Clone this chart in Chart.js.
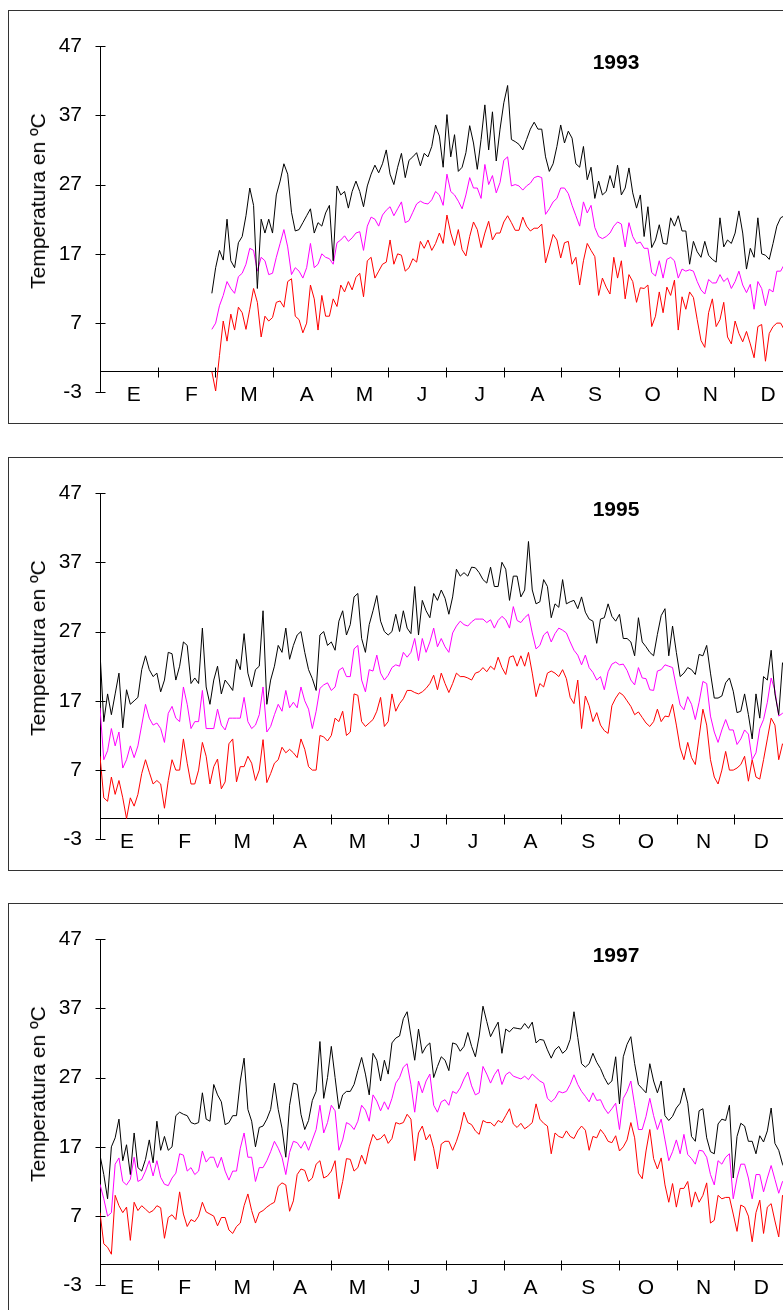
<!DOCTYPE html>
<html><head><meta charset="utf-8">
<script src="https://cdn.jsdelivr.net/npm/chart.js@4.4.0/dist/chart.umd.min.js"></script>
<style>
html,body{margin:0;padding:0;background:#fff;overflow:hidden;width:783px;height:1310px;}
.panel{position:absolute;left:8px;width:830px;height:412px;border:1px solid #333;background:#fff;}
.panel canvas{position:absolute;left:0;top:0;}
.ytitle{position:absolute;left:29px;top:190px;transform:translate(-50%,-50%) rotate(-90deg);white-space:nowrap;font:21px 'Liberation Sans',Arial,sans-serif;color:#000;}
.year{position:absolute;left:607px;top:51px;transform:translate(-50%,-50%);font:bold 21px 'Liberation Sans',Arial,sans-serif;color:#000;}
</style></head><body>
<div class="panel" style="top:10px"><canvas id="c1993" width="830" height="412"></canvas><div class="ytitle">Temperatura en ºC</div><div class="year">1993</div></div>
<div class="panel" style="top:457px"><canvas id="c1995" width="830" height="412"></canvas><div class="ytitle">Temperatura en ºC</div><div class="year">1995</div></div>
<div class="panel" style="top:903px"><canvas id="c1997" width="830" height="412"></canvas><div class="ytitle">Temperatura en ºC</div><div class="year">1997</div></div>
<script>
const MONTHS = ['E','F','M','A','M','J','J','A','S','O','N','D'];
const Y_TICKS = [-3, 7, 17, 27, 37, 47];
const STEP_DAYS = 2;

const START_1993 = 59;
const max1993 = [11.3,15,17.5,16.1,22,16,15,18.6,19.5,22.5,
26.5,24,12,22,20,22,20,25.5,27.5,30,
28.5,23,20.3,20.5,21.5,22.5,23.5,20,21.5,21,
22.9,24,16,26.8,25.5,26,23.6,26,27.5,26,
23.8,26.8,28.5,29.8,28.7,30,32,28.5,27,29.5,
31.5,28,30.5,31,31.6,29.7,31.5,31,32.5,35.6,
34,29.5,37.1,31,34.2,28.9,29.5,31.6,35.5,33,
29.2,33.5,38.5,32,37.5,30.4,35,38.8,41.3,33.5,
33.2,32.8,32,33.5,35,36,35,35,31,28.9,
30,32.5,35.6,33,34.7,33.7,30,29.5,32.5,27.7,
29.5,25,27.5,25.5,26,28.3,26.5,29.8,25.5,26.5,
29.4,25.8,23.6,25.5,19.5,23.8,17.9,19,21.2,18.5,
18.4,22.2,21,22.5,20.3,20.3,15.5,18.8,17.3,16.5,
18.8,16.8,16.2,15.8,22.2,18,19,18.5,20,23.2,
20,14.8,17.8,16.5,22.2,17,16.8,16.2,18.5,21,
22.2,22.5,21,20];
const mean1993 = [6.1,7,9.5,11,13,12,11.3,13.7,14.2,15.5,
17.8,17.5,14.5,16.5,16,14,14.2,16.5,18.5,20.5,
18,14,15,14.5,13.5,15,18.5,15,15.5,17,
16.5,16.3,15.5,18.6,19,19.6,18.8,19.3,20,20.2,
17.5,21,22.3,22,21,22.6,23.3,23.8,22.5,23.5,
24.5,21.5,21.8,23,24.2,24.6,24.3,24.2,24.8,26,
25.5,24,28.5,26,25.5,24.6,23.5,25.5,28,26.5,
26.5,25,29.9,27,28.3,25.8,27.3,30.5,31,26.8,
27,26.8,26.2,26.8,27.2,28,28.2,28,22.7,23.5,
24.5,25,26.5,26.5,25.7,24,22.5,21,24.5,22.9,
24,20.8,19.5,19.2,19.5,20,21,21.6,21.3,18,
21.5,19.5,18.5,18.7,17.8,17.8,14.3,13.8,16,13.5,
16.2,16.5,16,13.5,14.8,14.5,14.7,14.5,13,11.8,
11.2,13.3,12.8,12.8,14,13,13.5,12,13,14.5,
12.5,11.4,12.6,9,13,12,9.5,11.9,11.5,14.5,
14.5,15.5,14,13];
const min1993 = [0,-2.8,2.3,7.3,4.4,8.3,6,9.3,8.5,6.1,
9,12,10,5,8,7.3,7.8,10,10.2,9.3,
13,13.4,8,7.5,5.6,7,12.5,10.5,6,11,
8,8,10.5,9.4,12.5,11.5,13,11.8,13.6,14.2,
10.8,16,16.5,13.5,14.5,15.5,15.8,19,15.5,17,
16.8,14.5,15,16.3,15.8,18.8,17.8,19,17.5,18.5,
20,18.5,22.6,20,18.2,20.5,17.6,16.7,19.5,21.6,
20.5,17.9,20,21.7,19,20,20,21.6,22.5,21.5,
20.4,20.4,22.3,21,20.3,20.7,20.7,21.3,15.7,17.7,
19.8,19,16.4,18.6,18.8,15.5,16.5,12.5,16,18.5,
17.5,16.6,11,13.5,12.2,11.2,16.5,13.5,16,10.5,
14,13,10,12.1,12,12.5,6.5,8,11.5,8.5,
12.2,11,13.2,6,10.8,9,11.5,10.7,7.5,4.5,
3.5,8.5,10.5,6.5,7.5,10,5,4,7.3,5.5,
4.3,5.8,4,2,6.5,6.8,1.5,5.5,6.5,7,
7,6,5,6];

const START_1995 = 0;
const max1995 = [24,14,18,15,18,21,13.1,18.6,16.5,17,
17.5,21.5,23.5,21.5,20.5,21,18.3,20,24,23.8,
20,22,25.5,25,19.5,20.3,19.5,27.5,19,16.5,
20,22,18,20,19.3,18.5,23,21.5,26.7,21,
19,21.5,22,30,16.5,20,22,25,24,27.5,
23,25,26.5,27,24,21.5,20.2,18.5,26.5,27,
25,25.5,24.3,28.5,30,26.5,28,32,32.5,26,
24,28,30,32.2,28.5,27,26.5,27,29.5,27,
30,27.5,26.7,33.5,26.5,31.5,30,29,32.5,31.5,
33,31.8,29.5,32,36,35,35.5,35,36.3,36.2,
35.5,34.5,34,36.3,33.5,33.5,37,36,31.5,35,
35,32,33,40,33,31,31.3,34.5,33.5,
29,31,30.5,34.5,31,31.3,31.5,30.3,32,29.8,
28.8,28.5,25.3,28.8,29,31,29.2,28.5,29.5,26,
26,25.5,23.5,29,25.5,24.8,24,23.5,26.6,29.3,
30.3,23.5,27.8,24,20.5,21,21.8,21.5,20.8,23.7,
23.5,25,21,17.4,17.4,17.7,19.6,20.3,18.4,15.3,
15.5,18,15,11.5,18,14.5,20.5,20,24.3,18,
15,22.5,21,14];
const mean1995 = [16,8.5,9.8,13,10.5,12.5,7.3,8.5,10.5,8.8,
10.5,13.5,16.5,14.5,13.5,13.8,13,11,15.2,16.2,
14.5,14,19,16.5,13,14,14,18.5,13,13,
13,15.8,13.5,12.8,14.5,14.5,14.5,14.5,17.5,14,
13,13.5,15,19,12.5,13.3,15,16.5,15.5,18.5,
16,16.8,16,19,17,15.8,13,15.5,18.8,19.3,
19.6,18.5,19,21.4,21.8,20.5,20.5,24.5,25,20,
18.3,21.5,21.3,23.6,21,20,20.7,21.8,22.2,22,
24,23.3,24,26,22.8,26,24,25.5,27.5,24.8,
26,24.8,24,26.8,27.8,28.5,28,27.8,28.4,28.8,
28.8,28.8,28.3,28.7,27.5,28.6,29.2,28.7,27.5,30.6,
28.6,28.3,29,29.5,26.8,24.5,25,26.5,27,
25.5,26.7,27.5,27.2,26.8,25.5,24.3,23.6,22.2,23.6,
21.8,21.1,20,20.5,18.6,21.2,22.3,22.6,22.2,22.3,
21.4,20,19.3,21.8,20.3,20.2,18.6,18.5,21.3,21.5,
22.2,22,21.8,19,16.4,15.7,17.6,16.5,14.3,16.8,
19.8,19.5,14.8,12.5,11,12.8,14.3,12.8,12.8,10.7,
11.5,12.8,12.2,8.5,9.5,13,14.3,16.8,20.3,18.5,
14.8,15.2,15,14];
const min1995 = [9,3,2.5,6,3.5,5.5,3,0,3,1.8,
3.5,6.5,8.5,6.7,5,5.5,5,1.5,5.5,8.5,
7,7,11.5,8,5,5,7,11,9,5,
7.5,8.6,4.3,5.3,10.8,11.5,5.3,7.5,7.5,9,
8,5.5,7,11.4,5.2,6.5,8,8.5,10.3,9.5,
10,9.5,8.8,11.5,10,7.5,7,7,12,11.8,
11.2,12,14.5,14,15.5,12,12.5,18,17.8,14,
13.3,13.8,14.3,15.5,17.5,13.3,14,18,15.5,16.6,
17.3,18.5,18.5,18.2,18,18.3,18.8,19.5,20.7,18.6,
21,19.5,18.2,19.5,21,20.5,20.5,20.3,20,21,
21.2,21.8,21.2,22,21.5,23.3,21.8,20.8,23.3,23.5,
22,23.5,22,24,21,17.6,19.5,19,21,
21.3,21,20.5,21.5,20.2,17.5,16.6,20,13,17.7,
16.3,14,15.3,13.5,12.7,12.3,16.3,17.4,18.2,17.8,
17,16.2,15,15.4,14.6,13.8,13.3,14,15.8,14,
14.8,14.7,16.5,13.5,10.2,8.5,11,8.8,7.8,11.8,
15.8,13.5,8.5,6,5,7,9.7,7,7,7.3,
7.8,9,5.4,8.5,6,5.7,8.5,11.5,14.5,13.5,
8.5,10.8,10,10];

const START_1997 = 0;
const max1997 = [15.8,13,9.5,17,18.3,21,15,17.3,13,19,
14,13.5,15.2,18,14.7,20.7,16.5,18.5,16.5,17,
21.5,22,21.7,21.5,20.5,20.3,20.5,24.8,21,20.7,
26,24.5,23.5,20.2,20.5,21.5,21.5,26.5,29.8,22.4,
20.7,17,19.8,20,21,22.4,26.2,22.4,19.7,15.5,
23,26.2,26,21.7,19.5,20.8,23.7,25,32.2,24,
27,31.5,27,22.5,24.5,25,25,26,28,29.9,
27.5,24.5,30.5,29.5,26.5,29.5,27.5,32,32.7,33,
35.5,36.5,33,29.5,34,30.5,31.5,32,27,28.6,
30,29.5,28,32,31.8,30.8,31.5,33.5,31.5,30,
33,37.3,35.1,32.9,34,35,30.5,34,33.6,34.2,
34.1,34,34.8,34.1,35,32,32.5,32.4,31,
29.8,31,31.5,30.5,31,32.5,36.5,32.8,29,28.5,
29,30.5,29.2,28.3,27,26,26.5,30,23.2,30,
31.8,32.9,29,26,25.4,24.8,29,26.5,24.8,26.5,
21.5,20.8,21.4,22.6,23.3,25.5,23.3,18.5,17.8,22.2,
22.5,18.3,16.3,16,20.3,21,20.8,23,12.5,18.5,
20.4,20,17.8,17.8,16,18.6,17.7,19.3,22.6,17.5,
16.5,14.5,13.5,14];
const mean1997 = [11.6,9.5,7,7.5,14.5,15.4,12,11.5,12.3,15.5,
12,12.3,13.5,15,12.8,15,12.6,11.6,11.4,12.5,
13.2,16,15.8,13.5,14,13,13.5,16.4,14.8,15.5,
15.5,14,15.5,13.5,12.2,13.5,13.5,16.8,19,15.5,
15.5,12,14,14,15,16.3,17.8,16.8,15.5,13,
16.2,17.8,17.6,16.8,17.8,16.5,18,19.5,23,19,
20.5,23,22.2,16.5,18,20.5,20.2,19.5,20.7,23,
22.3,20.7,24.5,23.6,22.2,23.5,22.4,24,26.2,27,
28.5,29,26,22,26.5,24.8,26.5,27.5,23,22,
23.5,23.8,23,25,24.7,25.5,26.8,27.8,25.8,24.5,
24.8,28.6,27.5,26.2,27.4,28.2,26,27.4,27.8,27.2,
27,26.8,27.2,26.7,27.5,27,26.5,26.2,24,
23.5,24,25,24.8,25,26,27.4,26,25,24.3,
23.5,24.8,23.7,23.8,22.6,21.8,22.5,23.3,19.5,24,
25,26.5,23,19.5,19.5,21.4,24,21.5,19.5,21,
18,15,16.3,18,16,18.8,15.9,15.3,14.5,16.5,
16.4,15.5,13,11.5,15,14.5,15.5,16,9.5,12.5,
14.5,14.5,12.5,9.5,13,13,10.5,12.5,14.3,12.3,
10.3,12,12.5,12];
const min1997 = [7.5,3,2.5,1.5,10,8.5,7.5,8.3,3.5,9,
7.8,8.5,8,7.5,7.8,8.5,8.2,3.8,6.8,7.2,
6.5,10.5,7.3,5.5,6.5,6.2,7,9,7.6,7.3,
7,5.6,6.8,6.8,5,4.5,5.5,6,8.5,10.2,
7.8,6,7.5,7.8,8.3,8.7,9,11.3,11.8,11.5,
7.7,9.2,13,13.8,13.6,12,12.5,14.5,15,12.5,
12.8,13.5,15,9.5,12,15.3,15.2,13.5,14,15.8,
14.5,17,18.8,18,18.2,18.8,17.5,18.2,20.5,20.3,
20.5,21.7,21,15,19,20,18,18.8,16.8,13.8,
17.4,17.8,17.8,16.5,17.8,19.5,22,20.5,20.2,19.3,
18.8,20.8,20.5,20.5,20,20.8,20.5,21.5,22.5,20.3,
19.8,20.4,19.6,20,20.5,23.2,21,20.4,20,
16,19,18.5,18.3,19.3,18.5,18.2,19.3,20,19.4,
16.5,18.5,18.3,19.5,18.8,17.8,17.6,18.6,16.4,17,
18,20.5,18.3,13.2,12.4,16.4,19.5,15.3,13.8,15.4,
11.5,9,11.7,8.3,11,11,12,8.3,10.5,9,
10,11.8,6,6.4,10,9.5,9.7,9.7,7.3,4.8,
8.6,8.3,7,3.3,7.5,9.3,4.5,8.3,8.8,6.3,
4,10,9,8];

const YEAR_DAYS = 365;
const FONT = "'Liberation Sans', Arial, sans-serif";
Chart.defaults.color = '#000';
Chart.defaults.font.family = FONT;

const crossTicks = {
  id: 'crossTicks',
  afterDraw(chart) {
    const {x, y} = chart.scales;
    const ctx = chart.ctx;
    const ax = Math.round(chart.chartArea.left) + 0.5;
    const ay = Math.round(y.getPixelForValue(0)) + 0.5;
    ctx.save();
    ctx.strokeStyle = '#000';
    ctx.lineWidth = 1;
    ctx.beginPath();
    y.ticks.forEach(t => {
      const py = Math.round(y.getPixelForValue(t.value)) + 0.5;
      ctx.moveTo(ax - 5, py); ctx.lineTo(ax + 5, py);
    });
    for (let i = 0; i <= 12; i++) {
      const px = Math.round(x.getPixelForValue(i * YEAR_DAYS / 12)) + 0.5;
      ctx.moveTo(px, ay - 5); ctx.lineTo(px, ay + 5);
    }
    ctx.stroke();
    ctx.restore();
  }
};

function points(start, arr) {
  return arr.map((v, i) => ({x: start + STEP_DAYS * i, y: v}));
}

function makeChart(id, start, maxArr, meanArr, minArr, labelShift) {
  new Chart(document.getElementById(id), {
    type: 'line',
    data: {datasets: [
      {label: 'Máxima', data: points(start, maxArr), borderColor: '#000000'},
      {label: 'Media', data: points(start, meanArr), borderColor: '#ff00ff'},
      {label: 'Mínima', data: points(start, minArr), borderColor: '#ff0000'}
    ]},
    options: {
      responsive: false, animation: false, devicePixelRatio: 1,
      layout: {padding: {left: 0, top: 35, right: 47, bottom: 29}},
      plugins: {legend: {display: false}, tooltip: {enabled: false}, title: {display: false}},
      elements: {point: {radius: 0}, line: {borderWidth: 1, tension: 0, fill: false}},
      scales: {
        x: {
          type: 'linear', min: 0, max: YEAR_DAYS, position: {y: 0},
          grid: {display: true, drawOnChartArea: false, drawTicks: false, color: 'rgba(0,0,0,0)'},
          border: {display: true, color: '#000', width: 1},
          afterBuildTicks: s => { s.ticks = MONTHS.map((m, i) => ({value: (i + 0.5) * YEAR_DAYS / 12 + labelShift})); },
          ticks: {autoSkip: false, maxRotation: 0, minRotation: 0, padding: 11, font: {size: 21}, color: '#000',
                  callback: (v, i) => MONTHS[i]}
        },
        y: {
          type: 'linear', min: -3, max: 47, position: 'left',
          afterFit: s => { s.width = 91; },
          afterBuildTicks: s => { s.ticks = Y_TICKS.map(v => ({value: v})); },
          grid: {display: true, drawOnChartArea: false, drawTicks: false, color: 'rgba(0,0,0,0)'},
          border: {display: true, color: '#000', width: 1},
          ticks: {padding: 18, font: {size: 21}, color: '#000'}
        }
      }
    },
    plugins: [crossTicks]
  });
}

makeChart('c1993', START_1993, max1993, mean1993, min1993, 2.6);
makeChart('c1995', START_1995, max1995, mean1995, min1995, -1);
makeChart('c1997', START_1997, max1997, mean1997, min1997, -1);
</script>
</body></html>
